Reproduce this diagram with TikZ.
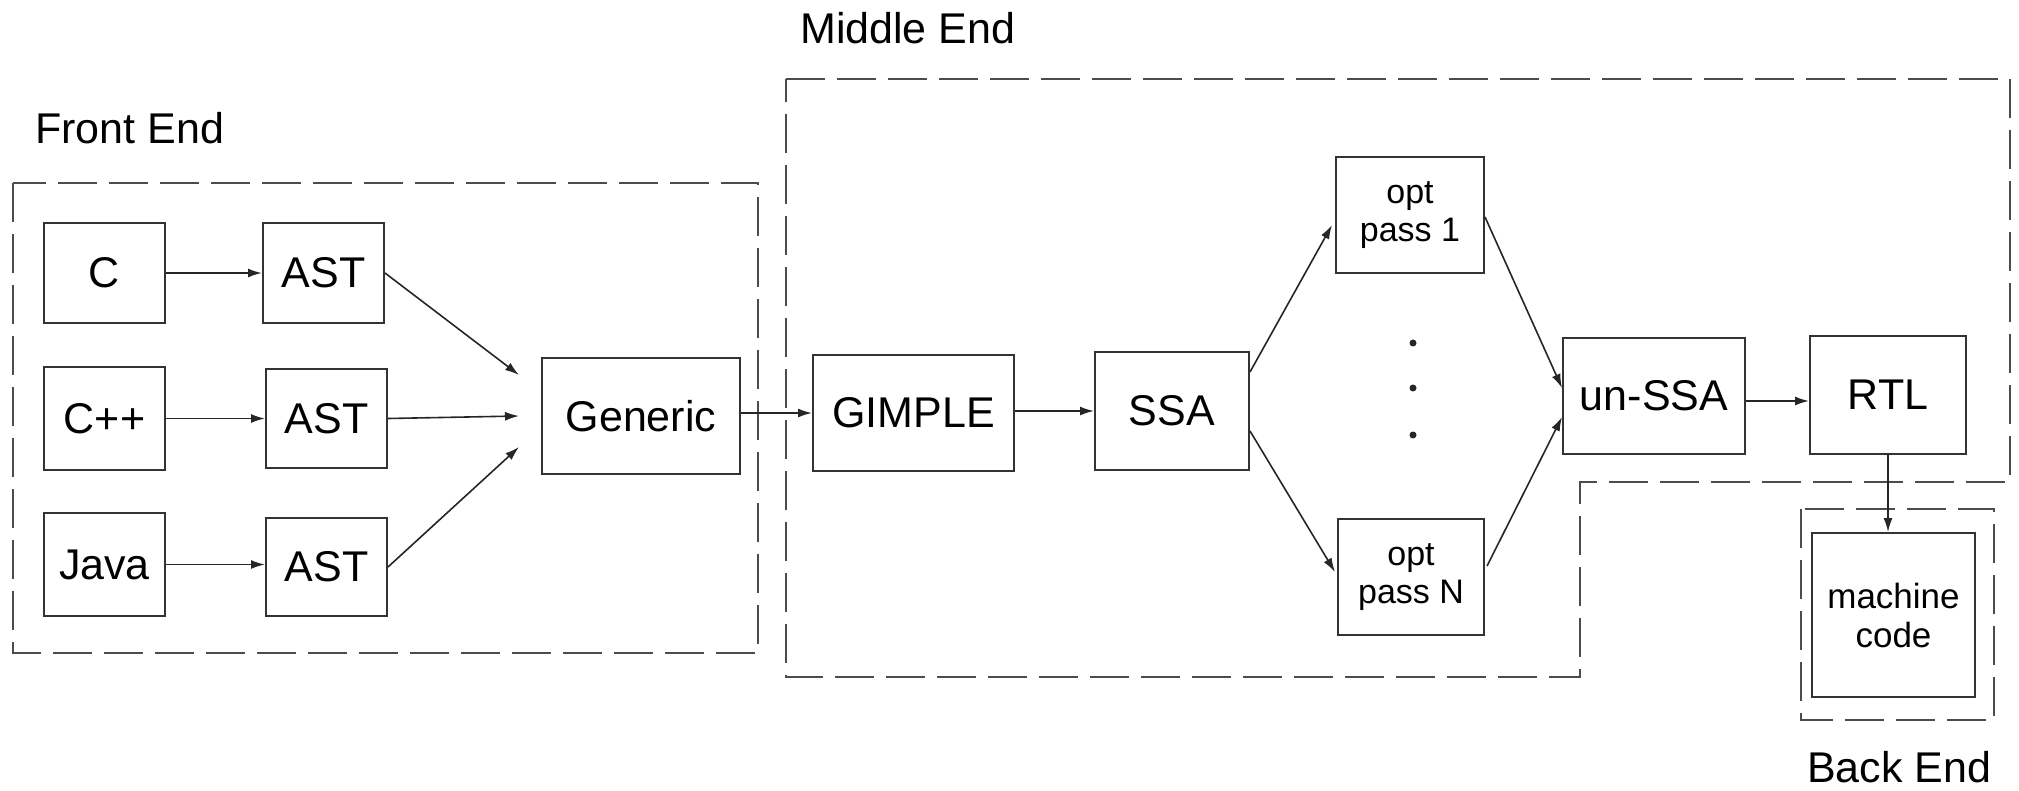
\documentclass[tikz,border=0pt]{standalone}
\usepackage{fontspec}
\setmainfont{Liberation Sans}
\usetikzlibrary{arrows.meta,calc}
\begin{document}
\begin{tikzpicture}[x=1pt,y=-1pt,
  box/.style={draw=black!80, line width=2pt, inner sep=0pt, align=center,
    font=\fontsize{43}{50}\selectfont},
  smallbox/.style={box, font=\fontsize{34}{38}\selectfont},
  mcbox/.style={box, font=\fontsize{35}{39}\selectfont},
  arr/.style={draw=black!85, line width=1.6pt, -{Latex[length=14pt,width=9pt]}},
  frame/.style={draw=black!70, line width=2.2pt, dash pattern=on 39pt off 12pt},
  lbl/.style={anchor=base west, inner sep=0pt, font=\fontsize{43}{50}\selectfont},
  dot/.style={circle, fill=black!85, inner sep=0pt, minimum size=7pt}]
\useasboundingbox (0,0) rectangle (2019,790);

% frames
\draw[frame] (13,183) rectangle (758,653);
\draw[frame] (786,79) -- (2010,79) -- (2010,482) -- (1580,482) -- (1580,677) -- (786,677) -- cycle;
\draw[frame] (1801,509) rectangle (1994,720);

% labels
\node[lbl] (lfe) at (35,143) {Front End};
\node[lbl] (lme) at (800,43) {Middle End};
\node[lbl] (lbe) at (1807,782) {Back End};

% front end
\node[box, minimum width=121pt, minimum height=100pt] (c) at (104.5,273) {C};
\node[box, minimum width=121pt, minimum height=103pt] (cpp) at (104.5,418.5) {C++};
\node[box, minimum width=121pt, minimum height=103pt] (java) at (104.5,564.5) {Java};
\node[box, minimum width=121pt, minimum height=100pt] (ast1) at (323.5,273) {AST};
\node[box, minimum width=121pt, minimum height=99pt] (ast2) at (326.5,418.5) {AST};
\node[box, minimum width=121pt, minimum height=98pt] (ast3) at (326.5,567) {AST};
\node[box, minimum width=198pt, minimum height=116pt] (gen) at (641,416) {Generic};

% middle end
\node[box, minimum width=201pt, minimum height=116pt] (gimple) at (913.5,413) {GIMPLE};
\node[box, minimum width=154pt, minimum height=118pt] (ssa) at (1172,411) {SSA};
\node[smallbox, minimum width=148pt, minimum height=116pt] (opt1) at (1410,215) {opt\\pass 1};
\node[smallbox, minimum width=146pt, minimum height=116pt] (optn) at (1411,577) {opt\\pass N};
\node[box, minimum width=182pt, minimum height=116pt] (unssa) at (1654,396) {un-SSA};
\node[box, minimum width=156pt, minimum height=118pt] (rtl) at (1888,395) {RTL};

% back end
\node[mcbox, minimum width=163pt, minimum height=164pt] (mc) at (1893.5,615) {machine\\code};

% dots
\node[dot] (d1) at (1413,343) {};
\node[dot] (d2) at (1413,388) {};
\node[dot] (d3) at (1413,435) {};

% converging points before Generic
\coordinate (g1) at ($(gen.west)+(-22,-41)$);
\coordinate (g2) at ($(gen.west)+(-22,0)$);
\coordinate (g3) at ($(gen.west)+(-22,31)$);

% arrows
\draw[arr] (c.east) -- (ast1.west |- c.east);
\draw[arr] (cpp.east) -- (ast2.west |- cpp.east);
\draw[arr] (java.east) -- (ast3.west |- java.east);
\draw[arr] (ast1.east) -- (g1);
\draw[arr] (ast2.east) -- (g2);
\draw[arr] (ast3.east) -- (g3);
\draw[arr] (gen.east |- gimple.west) -- (gimple.west);
\draw[arr] (gimple.east |- ssa.west) -- (ssa.west);
\draw[arr] ($(ssa.east)+(0,-39)$) -- ($(opt1.west)+(-3,10)$);
\draw[arr] ($(ssa.east)+(0,20)$) -- ($(optn.west)+(-2,-5)$);
\draw[arr] ($(opt1.east)+(0,2)$) -- ($(unssa.west)+(0,-8)$);
\draw[arr] ($(optn.east)+(2,-11)$) -- ($(unssa.west)+(0,21)$);
\draw[arr] ($(unssa.east)+(0,5)$) -- ($(rtl.west)+(0,6)$);
\draw[arr] (rtl.south) -- (rtl.south |- mc.north);
\end{tikzpicture}
\end{document}
